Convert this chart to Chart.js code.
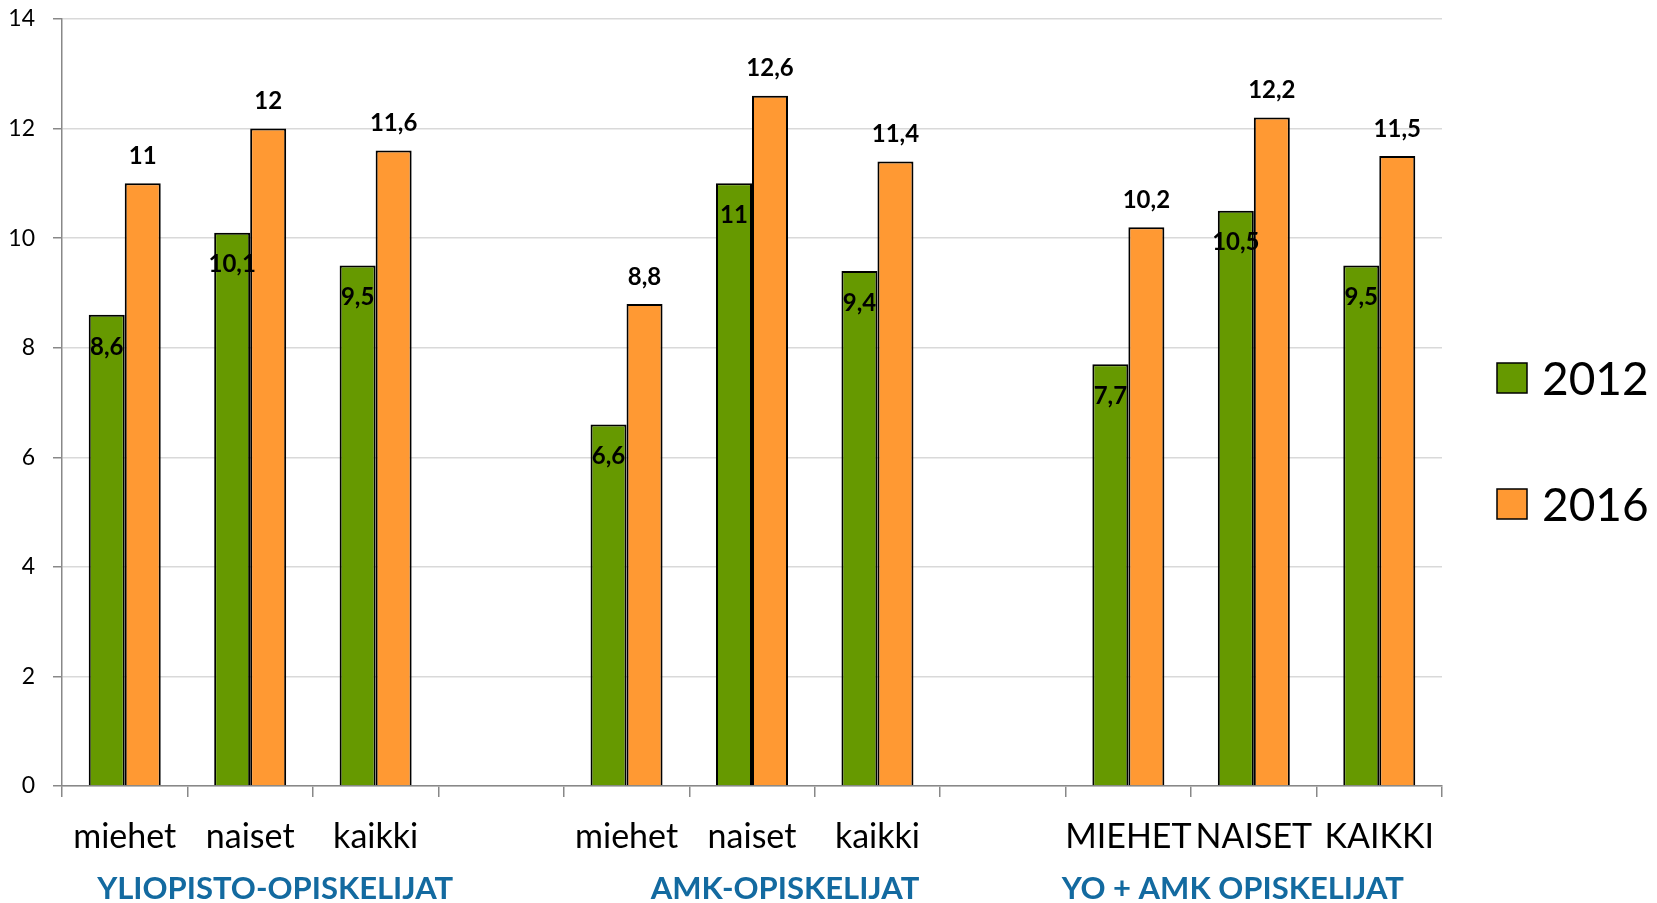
<!DOCTYPE html>
<html>
<head>
<meta charset="utf-8">
<script src="https://cdn.jsdelivr.net/npm/chart.js@4.4.1/dist/chart.umd.min.js"></script>
<style>
  html, body { margin: 0; padding: 0; background: #fff; }
  #wrap { width: 1657px; height: 903px; position: relative; }
</style>
</head>
<body>
<div id="wrap"><canvas id="c" width="1657" height="903"></canvas></div>
<script>
const categories = ['miehet', 'naiset', 'kaikki', '', 'miehet', 'naiset', 'kaikki', '', 'MIEHET', 'NAISET', 'KAIKKI'];
const values2012 = [8.6, 10.1, 9.5, null, 6.6, 11, 9.4, null, 7.7, 10.5, 9.5];
const values2016 = [11, 12, 11.6, null, 8.8, 12.6, 11.4, null, 10.2, 12.2, 11.5];
const seriesNames = ['2012', '2016'];
const groupLabels = ['YLIOPISTO-OPISKELIJAT', 'AMK-OPISKELIJAT', 'YO + AMK OPISKELIJAT'];
const groupAnchors = [1, 5, 9];
const yTicks = [0, 2, 4, 6, 8, 10, 12, 14];

const FONT = 'Lato, "Open Sans", sans-serif';
const GREEN = '#669900';
const ORANGE = '#FF9933';
const BLUE = '#136AA0';

function fmt(v) { return String(v).replace('.', ','); }

const labelPlugin = {
  id: 'labelPlugin',
  afterDatasetsDraw(chart) {
    const ctx = chart.ctx;
    ctx.save();
    ctx.font = 'bold 24px ' + FONT;
    ctx.fillStyle = '#000';
    ctx.textAlign = 'center';
    ctx.textBaseline = 'middle';
    chart.data.datasets.forEach((ds, di) => {
      const meta = chart.getDatasetMeta(di);
      meta.data.forEach((bar, i) => {
        const v = ds.data[i];
        if (v === null || v === undefined) return;
        const y = di === 0 ? bar.y + 32 : bar.y - 27;
        ctx.fillText(fmt(v), bar.x, y);
      });
    });
    ctx.restore();
  },
  afterDraw(chart) {
    const ctx = chart.ctx;
    const xs = chart.scales.x;
    const offsets = [25, 33, -21];
    ctx.save();
    ctx.font = 'bold 31px ' + FONT;
    ctx.fillStyle = BLUE;
    ctx.textAlign = 'center';
    ctx.textBaseline = 'alphabetic';
    groupLabels.forEach((t, i) => {
      ctx.fillText(t, xs.getPixelForValue(groupAnchors[i]) + offsets[i], 899);
    });
    // legend
    const colors = [GREEN, ORANGE];
    const ys = [378, 504];
    ctx.font = '46px ' + FONT;
    ctx.textAlign = 'left';
    ctx.textBaseline = 'middle';
    seriesNames.forEach((n, i) => {
      ctx.fillStyle = colors[i];
      ctx.fillRect(1497, ys[i] - 15, 30, 30);
      ctx.strokeStyle = '#000';
      ctx.lineWidth = 1.5;
      ctx.strokeRect(1497, ys[i] - 15, 30, 30);
      ctx.fillStyle = '#000';
      ctx.fillText(n, 1542, ys[i] + 2);
    });
    ctx.restore();
  }
};

const chart = new Chart(document.getElementById('c'), {
  type: 'bar',
  data: {
    labels: categories,
    datasets: [
      { label: seriesNames[0], data: values2012, backgroundColor: GREEN, borderColor: '#000', borderWidth: 2, categoryPercentage: 0.574, barPercentage: 1 },
      { label: seriesNames[1], data: values2016, backgroundColor: ORANGE, borderColor: '#000', borderWidth: 2, categoryPercentage: 0.574, barPercentage: 1 }
    ]
  },
  options: {
    responsive: false,
    animation: false,
    layout: { padding: { top: 19, right: 215, left: 0, bottom: 0 } },
    plugins: { legend: { display: false }, tooltip: { enabled: false } },
    scales: {
      x: {
        grid: { offset: true, drawOnChartArea: false, tickLength: 11, color: '#888', lineWidth: 1.5 },
        border: { color: '#888', width: 1.5 },
        ticks: { font: { family: FONT, size: 34 }, color: '#000', padding: 20, maxRotation: 0, autoSkip: false },
        afterFit(s) { s.height = 117; s.paddingLeft = 0; s.paddingRight = 0; }
      },
      y: {
        min: 0, max: 14,
        afterBuildTicks(s) { s.ticks = yTicks.map(v => ({ value: v })); },
        grid: { color: '#d9d9d9', lineWidth: 1.5, tickLength: 9, tickColor: '#888' },
        border: { color: '#888', width: 1.5 },
        ticks: { font: { family: FONT, size: 23 }, color: '#000', padding: 18 },
        afterFit(s) { s.width = 62; s.paddingTop = 0; s.paddingBottom = 0; }
      }
    }
  },
  plugins: [labelPlugin]
});
</script>
</body>
</html>
